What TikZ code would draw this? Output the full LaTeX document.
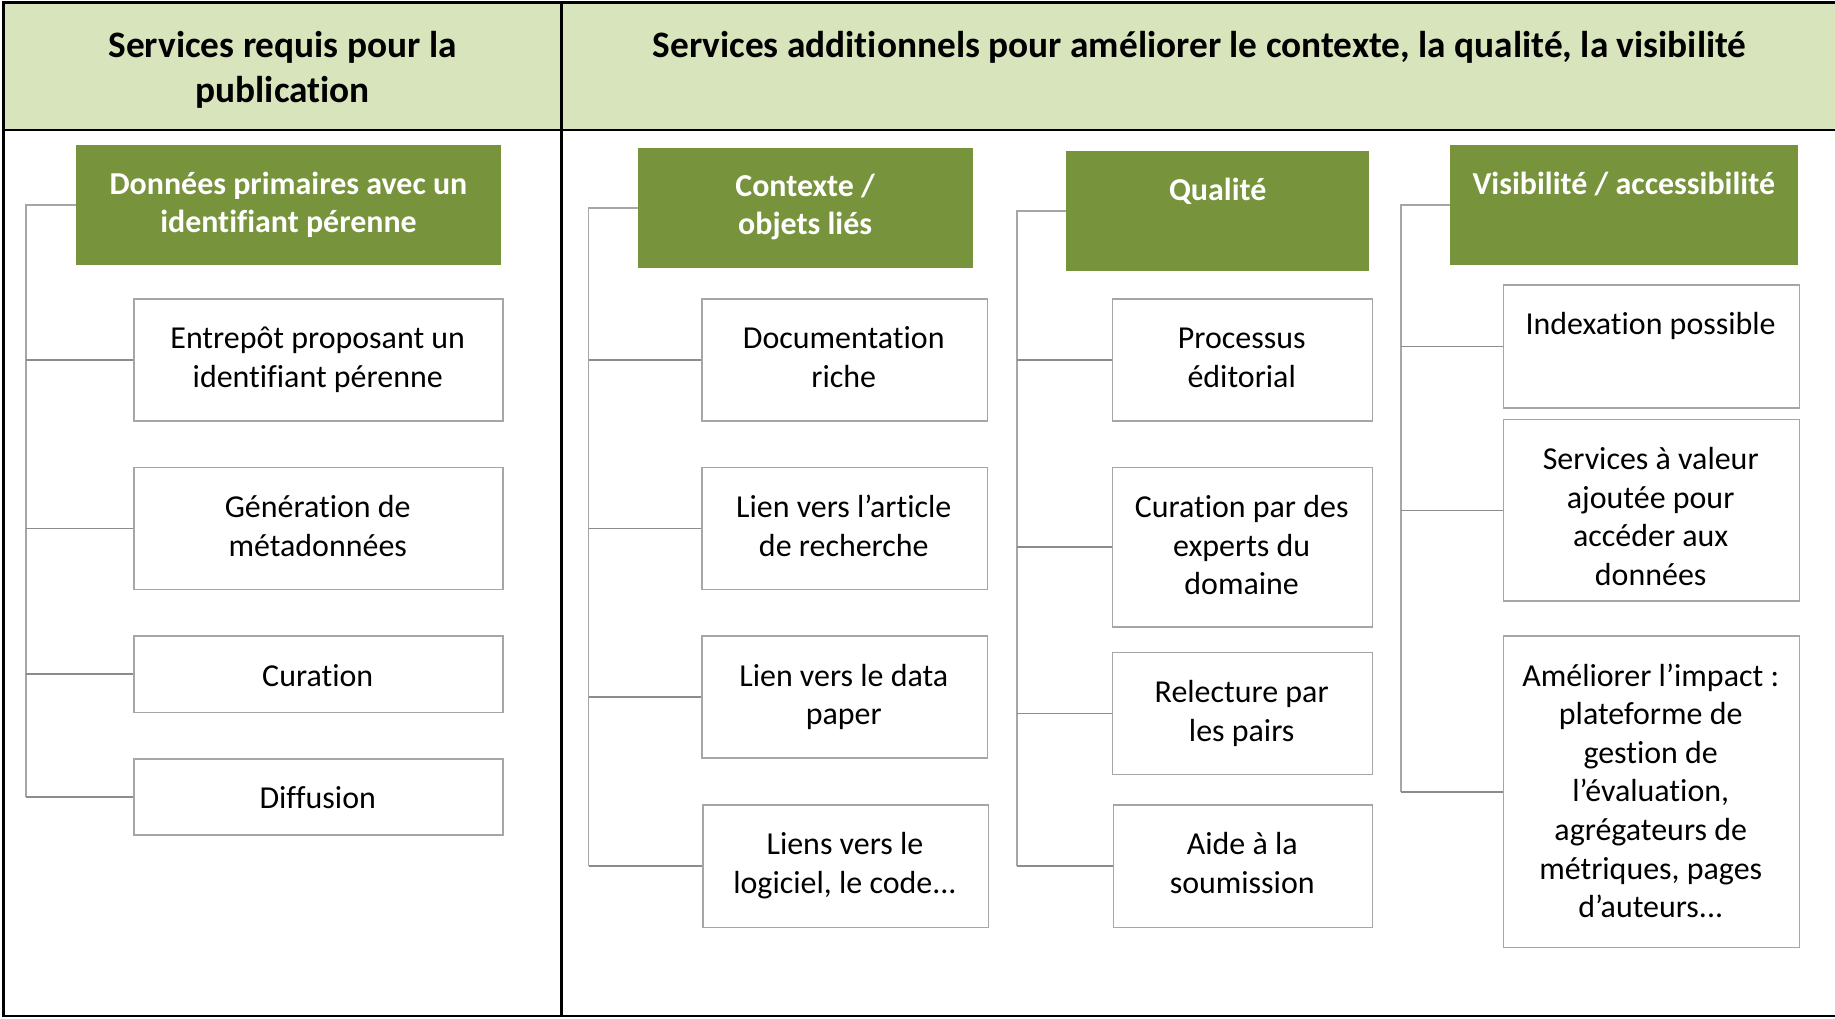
\documentclass[tikz,border=0pt]{standalone}
\usepackage{fontspec}
\setmainfont{Carlito}[Ligatures=NoCommon]
\definecolor{hdrgreen}{HTML}{D8E4BC}
\definecolor{dgreen}{HTML}{77933C}
\definecolor{boxgray}{HTML}{A6A6A6}
\definecolor{tiegray}{HTML}{8C8C8C}
\newcommand{\tstrut}{\rule{0pt}{30pt}}
\newcommand{\hstrut}{\rule{0pt}{34pt}}
\tikzset{
  frame/.style={line width=2.2pt, draw=black},
  itembox/.style={draw=boxgray, line width=1.3pt, fill=white, inner sep=0pt, anchor=north west},
  grbox/.style={fill=dgreen, inner sep=0pt, anchor=north west},
  itemtxt/.style={align=center, inner sep=0pt, anchor=north, font=\fontsize{27.3}{33}\selectfont},
  grtxt/.style={align=center, inner sep=0pt, anchor=north, text=white, font=\fontsize{27.3}{32.5}\selectfont\bfseries},
  hdrtxt/.style={align=center, inner sep=0pt, anchor=north, font=\fontsize{31.9}{38}\selectfont\bfseries},
  vline/.style={draw=boxgray, line width=1.4pt},
  tie/.style={draw=tiegray, line width=1.4pt},
}
% \itm{name}{x1}{y1}{x2}{y2}{text}
\newcommand{\itm}[6]{%
  \node[itembox, minimum width={#4-#2}, minimum height={#5-#3}] (#1) at (#2,#3) {};
  \node[itemtxt] (#1t) at ({(#2+#4)/2},{#3+43-30}) {\tstrut#6};
}
\newcommand{\grn}[6]{%
  \node[grbox, minimum width={#4-#2}, minimum height={#5-#3}] (#1) at (#2,#3) {};
  \node[grtxt] (#1t) at ({(#2+#4)/2},{#3+42-30}) {\tstrut#6};
}
\begin{document}
\begin{tikzpicture}[x=1pt,y=-1pt]
\useasboundingbox (0,0) rectangle (1568,870);
% header band
\fill[hdrgreen] (3,2) rectangle (1570,111);
\node[hdrtxt] (h1) at (241.5,{49-34}) {\hstrut Services requis pour la\\publication};
\node[hdrtxt] (h2) at (1025,{49-34}) {\hstrut Services additionnels pour améliorer le contexte, la qualité, la visibilité};
\draw[frame] (1570,2) -- (3,2) -- (3,868) -- (1570,868);
\draw[frame] (3,111) -- (1570,111);
\draw[frame] (480,2) -- (480,868);

% column 1
\coordinate (c1) at (22,0);
\grn{g1}{65}{124}{428}{226}{Données primaires avec un\\identifiant pérenne}
\itm{b11}{114}{255}{429}{359}{Entrepôt proposant un\\identifiant pérenne}
\itm{b12}{114}{399}{429}{503}{Génération de\\métadonnées}
\itm{b13}{114}{543}{429}{608}{Curation}
\itm{b14}{114}{648}{429}{713}{Diffusion}
\draw[vline] (g1.west) -- (g1.west -| c1) -- (b14.west -| c1);
\foreach \b in {b11,b12,b13,b14} \draw[tie] (\b.west -| c1) -- (\b.west);

% column 2
\coordinate (c2) at (503,0);
\grn{g2}{545}{126}{831}{229}{Contexte /\\objets liés}
\itm{b21}{599}{255}{843}{359}{Documentation\\riche}
\itm{b22}{599}{399}{843}{503}{Lien vers l’article\\de recherche}
\itm{b23}{599}{543}{843}{647}{Lien vers le data\\paper}
\itm{b24}{600}{687}{844}{792}{Liens vers le\\logiciel, le code...}
\draw[vline] (g2.west) -- (g2.west -| c2) -- (b24.west -| c2);
\foreach \b in {b21,b22,b23,b24} \draw[tie] (\b.west -| c2) -- (\b.west);

% column 3
\coordinate (c3) at (869,0);
\grn{g3}{911}{129}{1170}{231}{Qualité}
\itm{b31}{950}{255}{1172}{359}{Processus\\éditorial}
\itm{b32}{950}{399}{1172}{535}{Curation par des\\experts du\\domaine}
\itm{b33}{950}{557}{1172}{661}{Relecture par\\les pairs}
\itm{b34}{951}{687}{1172}{792}{Aide à la\\soumission}
\draw[vline] (g3.west) -- (g3.west -| c3) -- (b34.west -| c3);
\foreach \b in {b31,b32,b33,b34} \draw[tie] (\b.west -| c3) -- (\b.west);

% column 4
\coordinate (c4) at (1197,0);
\grn{g4}{1239}{124}{1536}{226}{Visibilité / accessibilité}
\itm{b41}{1284}{243}{1537}{348}{Indexation possible}
\itm{b42}{1284}{358}{1537}{513}{Services à valeur\\ajoutée pour\\accéder aux\\données}
\itm{b43}{1284}{543}{1537}{809}{Améliorer l’impact :\\plateforme de\\gestion de\\l’évaluation,\\agrégateurs de\\métriques, pages\\d’auteurs...}
\draw[vline] (g4.west) -- (g4.west -| c4) -- (b43.west -| c4);
\foreach \b in {b41,b42,b43} \draw[tie] (\b.west -| c4) -- (\b.west);
\end{tikzpicture}
\end{document}
